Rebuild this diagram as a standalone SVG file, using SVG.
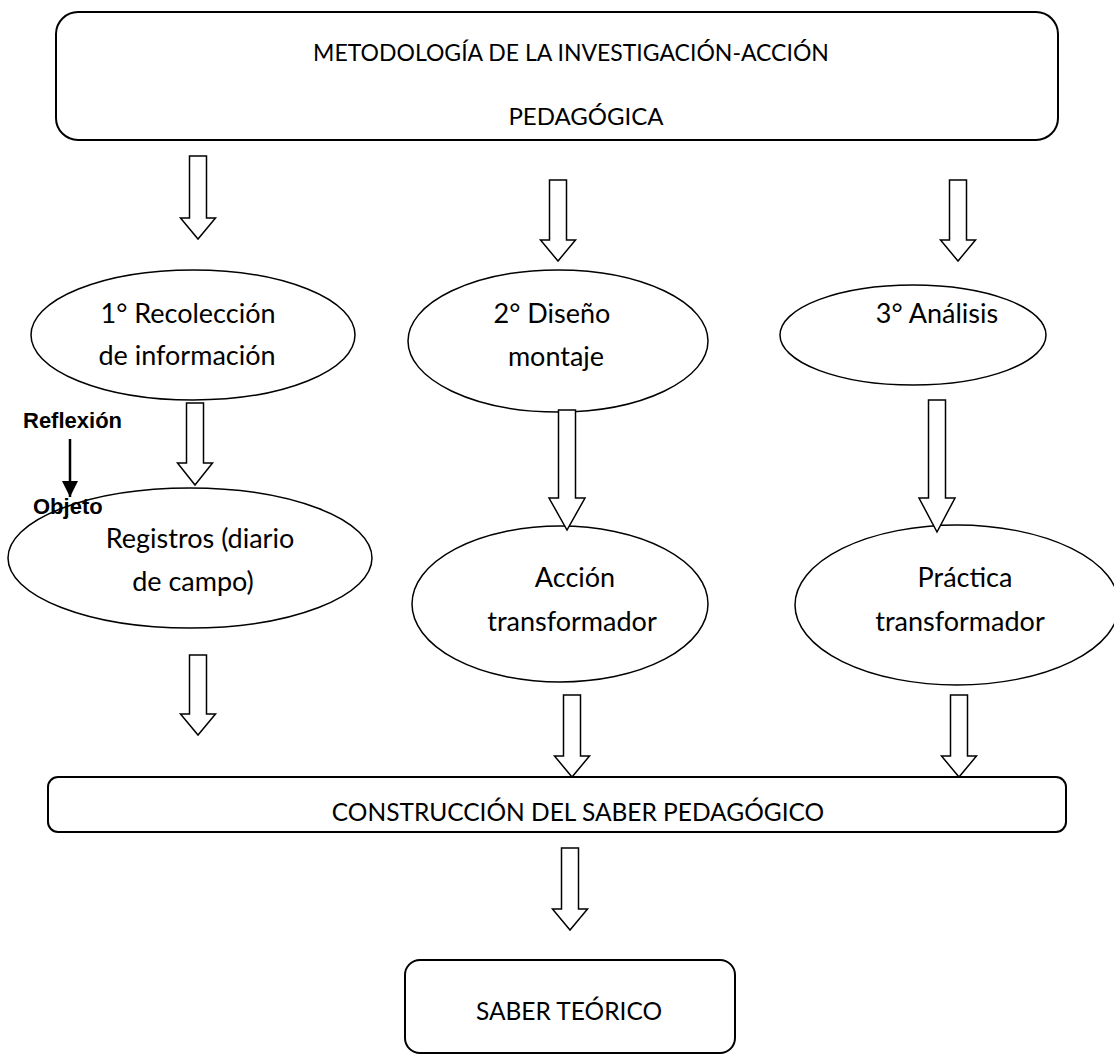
<svg xmlns="http://www.w3.org/2000/svg" width="1114" height="1064" viewBox="0 0 1114 1064">
<defs>
<style>
.box{fill:#fff;stroke:#000;stroke-width:2}
.ell{fill:#fff;stroke:#000;stroke-width:1.5}
.arr{fill:#fff;stroke:#000;stroke-width:1.5;stroke-linejoin:miter}
.t{font-family:Lato,"Open Sans",sans-serif;font-size:27px;fill:#000;text-anchor:middle}
.u{font-family:Lato,"Open Sans",sans-serif;font-size:24.5px;fill:#000;text-anchor:middle}
.b{font-family:"Liberation Sans",Arial,sans-serif;font-size:22px;font-weight:bold;fill:#000}
</style>
<marker id="ah" markerWidth="16" markerHeight="16" refX="16" refY="8" orient="auto" markerUnits="userSpaceOnUse" viewBox="0 0 16 16">
<path d="M0,0 L16,8 L0,16 Z" fill="#000"/>
</marker>
</defs>
<rect width="1114" height="1064" fill="#fff"/>

<g id="n-metodologia">
<rect class="box" x="56" y="12" width="1002" height="128" rx="22"/>
<text class="u" x="571" y="61" style="font-size:23px">METODOLOGÍA DE LA INVESTIGACIÓN-ACCIÓN</text>
<text class="u" x="586" y="125" style="font-size:24px">PEDAGÓGICA</text>
</g>

<g id="n-recoleccion">
<ellipse class="ell" cx="193" cy="335" rx="162" ry="65"/>
<text class="t" x="188" y="323">1° Recolección</text>
<text class="t" x="187" y="365">de información</text>
</g>

<g id="n-diseno">
<ellipse class="ell" cx="558" cy="341" rx="150" ry="71"/>
<text class="t" x="552" y="323">2° Diseño</text>
<text class="t" x="556" y="366">montaje</text>
</g>

<g id="n-analisis">
<ellipse class="ell" cx="913" cy="335" rx="133" ry="50"/>
<text class="t" x="937" y="323">3° Análisis</text>
</g>

<g id="n-registros">
<ellipse class="ell" cx="190" cy="558" rx="182" ry="70"/>
<text class="t" x="200" y="548">Registros (diario</text>
<text class="t" x="193" y="591">de campo)</text>
</g>

<g id="n-accion">
<ellipse class="ell" cx="560" cy="604" rx="148" ry="78"/>
<text class="t" x="575" y="587">Acción</text>
<text class="t" x="572" y="631">transformador</text>
</g>

<g id="n-practica">
<ellipse class="ell" cx="957" cy="605" rx="162" ry="80"/>
<text class="t" x="965" y="587">Práctica</text>
<text class="t" x="960" y="631">transformador</text>
</g>

<g id="n-construccion">
<rect class="box" x="48" y="777" width="1018" height="55" rx="10"/>
<text class="u" x="578" y="821">CONSTRUCCIÓN DEL SABER PEDAGÓGICO</text>
</g>

<g id="n-saber">
<rect class="box" x="405" y="960" width="330" height="93" rx="15"/>
<text class="u" x="569" y="1020">SABER TEÓRICO</text>
</g>

<g id="n-reflexion">
<text class="b" x="23" y="428">Reflexión</text>
<text class="b" x="33" y="514">Objeto</text>
</g>

<g id="connectors">
<path class="arr" d="M189.5,156 H206.5 V218 H215.5 L198,239 L180.5,218 H189.5 Z"/>
<path class="arr" d="M549.5,180 H566.5 V240 H575.5 L558,261 L540.5,240 H549.5 Z"/>
<path class="arr" d="M949.5,180 H966.5 V240 H975.5 L958,261 L940.5,240 H949.5 Z"/>
<path class="arr" d="M186.5,403 H203.5 V463 H212.5 L195,485 L177.5,463 H186.5 Z"/>
<path class="arr" d="M558.5,410 H575.5 V498 H585 L567,530 L549,498 H558.5 Z"/>
<path class="arr" d="M928.5,400 H945.5 V498 H955 L937,532 L919,498 H928.5 Z"/>
<path class="arr" d="M189.5,655 H206.5 V714 H215.5 L198,735 L180.5,714 H189.5 Z"/>
<path class="arr" d="M563.5,695 H580.5 V756 H589.5 L572,777 L554.5,756 H563.5 Z"/>
<path class="arr" d="M950.5,695 H967.5 V756 H976.5 L959,777 L941.5,756 H950.5 Z"/>
<path class="arr" d="M561.5,848 H578.5 V909 H587.5 L570,930 L552.5,909 H561.5 Z"/>
<line x1="70" y1="439" x2="70" y2="497" stroke="#000" stroke-width="2.5" marker-end="url(#ah)"/>
</g>
</svg>
